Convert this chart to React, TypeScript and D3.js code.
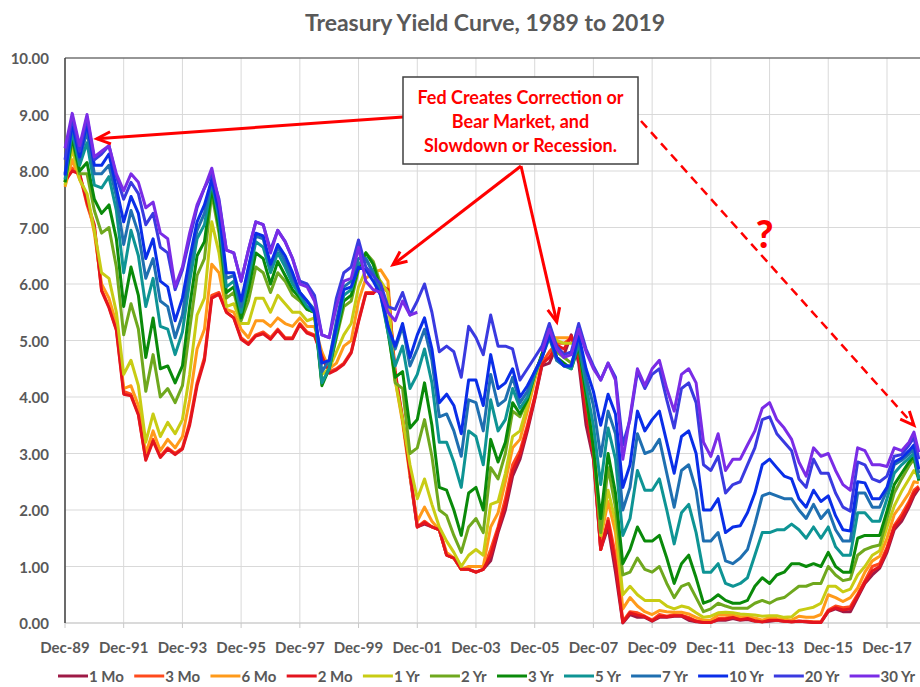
import * as d3 from 'd3';
import { useEffect, useRef } from 'react';

// 系列名称与颜色
const seriesNames = ['1 Mo', '3 Mo', '6 Mo', '2 Mo', '1 Yr', '2 Yr', '3 Yr', '5 Yr', '7 Yr', '10 Yr', '20 Yr', '30 Yr'];
const seriesColors = ['#9E1A46', '#FF4A1C', '#FF9A1A', '#E3141E', '#C8CC14', '#6FA81E', '#0A8A0A', '#0E9494', '#1F6FB0', '#0A2EE8', '#3A3AE0', '#7A2CE6'];

const yTicks = [0, 1, 2, 3, 4, 5, 6, 7, 8, 9, 10];
const xTickLabels = ['Dec-89', 'Dec-91', 'Dec-93', 'Dec-95', 'Dec-97', 'Dec-99', 'Dec-01', 'Dec-03', 'Dec-05', 'Dec-07', 'Dec-09', 'Dec-11', 'Dec-13', 'Dec-15', 'Dec-17'];

// quarterly points Dec-89 .. Sep-18, then Nov-18, Jan-19
const extraMonths = ['2018-11', '2019-01'];

// values by row: Dec-89 / one line per year (Mar, Jun, Sep, Dec) / 2018 (Mar, Jun, Sep, Nov) / Jan-19
const mo1 = [
  null,
  null, null, null, null,
  null, null, null, null,
  null, null, null, null,
  null, null, null, null,
  null, null, null, null,
  null, null, null, null,
  null, null, null, null,
  null, null, null, null,
  null, null, null, null,
  null, null, null, null,
  null, null, null, null,
  null, null, 2.60, 1.70,
  1.75, 1.70, 1.65, 1.20,
  1.15, 0.95, 0.95, 0.90,
  0.95, 1.10, 1.60, 2.00,
  2.60, 2.90, 3.40, 3.95,
  4.55, 4.60, 4.90, 4.75,
  5.10, 4.60, 3.50, 2.90,
  1.30, 1.70, 0.90, 0.00,
  0.15, 0.10, 0.10, 0.03,
  0.10, 0.10, 0.12, 0.12,
  0.05, 0.02, 0.01, 0.01,
  0.05, 0.05, 0.08, 0.05,
  0.06, 0.03, 0.02, 0.03,
  0.05, 0.03, 0.02, 0.03,
  0.02, 0.01, 0.01, 0.20,
  0.25, 0.20, 0.20, 0.45,
  0.70, 0.85, 0.97, 1.25,
  1.65, 1.80, 2.05, 2.25,
  2.38,
];

const mo3 = [
  7.80,
  8.05, 7.95, 7.40, 7.00,
  5.90, 5.60, 5.20, 4.10,
  4.05, 3.70, 2.90, 3.25,
  2.95, 3.10, 3.00, 3.10,
  3.55, 4.25, 4.70, 5.80,
  5.85, 5.50, 5.40, 5.05,
  4.95, 5.10, 5.15, 5.05,
  5.20, 5.05, 5.05, 5.30,
  5.15, 5.10, 4.75, 4.45,
  4.50, 4.60, 4.80, 5.35,
  5.85, 5.85, 6.00, 5.85,
  4.40, 3.60, 2.70, 1.70,
  1.80, 1.70, 1.65, 1.20,
  1.15, 0.95, 0.95, 0.90,
  0.95, 1.30, 1.70, 2.20,
  2.80, 3.05, 3.50, 4.00,
  4.60, 4.80, 4.95, 4.95,
  5.05, 4.75, 3.90, 3.05,
  1.30, 1.85, 1.20, 0.03,
  0.20, 0.18, 0.12, 0.05,
  0.15, 0.12, 0.15, 0.14,
  0.10, 0.04, 0.02, 0.01,
  0.08, 0.09, 0.11, 0.07,
  0.09, 0.04, 0.02, 0.07,
  0.05, 0.04, 0.02, 0.03,
  0.03, 0.02, 0.02, 0.23,
  0.30, 0.27, 0.29, 0.51,
  0.75, 1.00, 1.05, 1.34,
  1.73, 1.92, 2.15, 2.35,
  2.42,
];

const mo6 = [
  7.72,
  8.20, 7.85, 7.55, 6.90,
  6.00, 5.75, 5.30, 4.15,
  4.20, 3.85, 3.00, 3.40,
  3.05, 3.25, 3.10, 3.30,
  3.95, 4.85, 5.20, 6.35,
  6.20, 5.55, 5.50, 5.20,
  5.05, 5.35, 5.35, 5.25,
  5.40, 5.30, 5.25, 5.40,
  5.25, 5.25, 4.80, 4.50,
  4.60, 4.90, 5.00, 5.70,
  6.10, 6.20, 6.25, 6.05,
  4.30, 3.55, 2.60, 1.80,
  2.05, 1.80, 1.65, 1.25,
  1.15, 0.95, 1.00, 1.00,
  1.00, 1.70, 1.95, 2.50,
  3.10, 3.25, 3.75, 4.30,
  4.75, 5.05, 5.05, 5.05,
  5.05, 4.95, 4.10, 3.30,
  1.50, 2.15, 1.60, 0.25,
  0.45, 0.30, 0.20, 0.15,
  0.22, 0.20, 0.19, 0.19,
  0.16, 0.10, 0.05, 0.05,
  0.14, 0.14, 0.14, 0.11,
  0.11, 0.09, 0.05, 0.10,
  0.08, 0.07, 0.05, 0.12,
  0.10, 0.10, 0.15, 0.50,
  0.45, 0.38, 0.45, 0.62,
  0.90, 1.10, 1.18, 1.50,
  1.92, 2.10, 2.30, 2.50,
  2.48,
];

const mo2 = [
  7.82,
  8.00, 7.95, 7.45, 7.05,
  5.88, 5.58, 5.18, 4.05,
  4.02, 3.68, 2.88, 3.22,
  2.93, 3.08, 2.98, 3.08,
  3.50, 4.20, 4.65, 5.75,
  5.82, 5.50, 5.40, 5.02,
  4.93, 5.08, 5.12, 5.02,
  5.18, 5.03, 5.03, 5.28,
  5.13, 5.08, 4.72, 4.42,
  4.48, 4.58, 4.78, 5.33,
  5.83, 5.83, 5.98, 5.90,
  4.45, 3.62, 2.65, 1.70,
  1.78, 1.70, 1.65, 1.20,
  1.15, 0.95, 0.95, 0.90,
  0.95, 1.20, 1.65, 2.10,
  2.70, 2.98, 3.45, 3.98,
  4.58, 4.70, 4.92, 4.85,
  5.08, 4.70, 3.70, 2.98,
  1.30, 1.80, 1.05, 0.01,
  0.18, 0.14, 0.11, 0.04,
  0.12, 0.11, 0.13, 0.13,
  0.08, 0.03, 0.01, 0.01,
  0.06, 0.07, 0.10, 0.06,
  0.08, 0.04, 0.02, 0.05,
  0.05, 0.03, 0.02, 0.03,
  0.02, 0.01, 0.01, 0.21,
  0.27, 0.23, 0.25, 0.48,
  0.72, 0.92, 1.00, 1.30,
  1.70, 1.86, 2.10, 2.30,
  2.40,
];

const yr1 = [
  7.75,
  8.40, 7.85, 7.60, 6.95,
  6.20, 6.10, 5.50, 4.40,
  4.65, 4.20, 3.20, 3.70,
  3.30, 3.55, 3.35, 3.60,
  4.40, 5.45, 5.75, 7.10,
  6.55, 5.60, 5.65, 5.30,
  5.30, 5.75, 5.75, 5.50,
  5.80, 5.65, 5.50, 5.50,
  5.35, 5.40, 4.40, 4.50,
  4.80, 5.10, 5.30, 5.95,
  6.25, 6.20, 6.05, 5.85,
  4.30, 3.60, 2.80, 2.20,
  2.55, 2.10, 1.70, 1.45,
  1.25, 1.00, 1.20, 1.30,
  1.20, 2.10, 2.15, 2.65,
  3.30, 3.40, 3.85, 4.35,
  4.75, 5.15, 5.00, 4.95,
  4.95, 4.95, 4.10, 3.30,
  1.55, 2.35, 1.80, 0.50,
  0.65, 0.50, 0.40, 0.40,
  0.40, 0.30, 0.25, 0.30,
  0.27, 0.18, 0.10, 0.12,
  0.18, 0.19, 0.18, 0.16,
  0.15, 0.14, 0.12, 0.13,
  0.13, 0.10, 0.11, 0.22,
  0.25, 0.28, 0.35, 0.65,
  0.65, 0.55, 0.60, 0.85,
  1.00, 1.20, 1.28, 1.70,
  2.07, 2.33, 2.55, 2.70,
  2.58,
];

const yr2 = [
  7.80,
  8.55, 7.95, 7.95, 7.30,
  6.90, 7.00, 6.30, 5.10,
  5.65, 5.20, 4.10, 4.75,
  4.00, 4.15, 3.90, 4.20,
  5.20, 6.15, 6.45, 7.60,
  6.90, 5.75, 5.85, 5.35,
  5.70, 6.30, 6.20, 5.85,
  6.20, 6.05, 5.80, 5.70,
  5.55, 5.50, 4.25, 4.50,
  5.05, 5.60, 5.70, 6.25,
  6.55, 6.40, 6.00, 5.25,
  4.25, 4.15, 3.00, 3.10,
  3.60, 2.95, 2.00, 1.90,
  1.55, 1.25, 1.70, 1.85,
  1.60, 2.75, 2.55, 3.00,
  3.75, 3.65, 3.95, 4.40,
  4.75, 5.15, 4.80, 4.70,
  4.60, 4.90, 4.00, 3.10,
  1.60, 2.75, 2.05, 0.85,
  0.90, 1.15, 0.95, 0.90,
  1.00, 0.70, 0.45, 0.65,
  0.70, 0.45, 0.20, 0.25,
  0.35, 0.30, 0.26, 0.26,
  0.26, 0.35, 0.40, 0.35,
  0.42, 0.45, 0.55, 0.65,
  0.65, 0.70, 0.70, 1.00,
  0.85, 0.75, 0.78, 1.20,
  1.30, 1.35, 1.38, 1.85,
  2.30, 2.55, 2.78, 2.90,
  2.55,
];

const yr3 = [
  7.80,
  8.60, 8.00, 8.15, 7.50,
  7.25, 7.40, 6.80, 5.60,
  6.30, 5.80, 4.70, 5.40,
  4.50, 4.55, 4.25, 4.55,
  5.60, 6.50, 6.75, 7.70,
  7.00, 5.85, 5.95, 5.40,
  5.90, 6.55, 6.45, 6.00,
  6.40, 6.15, 5.90, 5.75,
  5.55, 5.50, 4.20, 4.50,
  5.10, 5.70, 5.80, 6.30,
  6.55, 6.35, 5.90, 5.15,
  4.35, 4.45, 3.45, 3.60,
  4.25, 3.50, 2.40, 2.35,
  2.00, 1.55, 2.30, 2.40,
  2.00, 3.25, 2.85, 3.20,
  3.90, 3.70, 3.95, 4.40,
  4.75, 5.10, 4.70, 4.60,
  4.50, 4.90, 4.05, 3.10,
  1.85, 3.00, 2.30, 1.05,
  1.30, 1.70, 1.45, 1.45,
  1.55, 1.15, 0.70, 1.05,
  1.20, 0.80, 0.35, 0.40,
  0.50, 0.40, 0.35, 0.35,
  0.40, 0.65, 0.80, 0.70,
  0.85, 0.90, 1.05, 1.05,
  1.00, 1.05, 1.00, 1.25,
  1.00, 0.90, 0.90, 1.50,
  1.55, 1.55, 1.55, 1.98,
  2.45, 2.65, 2.85, 2.95,
  2.52,
];

const yr5 = [
  7.85,
  8.70, 8.10, 8.50, 7.75,
  7.70, 7.90, 7.30, 6.20,
  6.95, 6.50, 5.60, 6.10,
  5.25, 5.20, 4.75, 5.15,
  6.05, 6.80, 7.05, 7.80,
  7.15, 5.95, 6.05, 5.50,
  6.10, 6.75, 6.65, 6.20,
  6.55, 6.30, 6.00, 5.80,
  5.60, 5.50, 4.25, 4.50,
  5.15, 5.80, 5.90, 6.35,
  6.45, 6.20, 5.80, 5.15,
  4.55, 4.90, 4.15, 4.40,
  4.85, 4.25, 3.20, 3.20,
  2.85, 2.40, 3.40, 3.30,
  2.80, 3.95, 3.40, 3.60,
  4.15, 3.80, 4.00, 4.40,
  4.70, 5.05, 4.65, 4.55,
  4.50, 4.95, 4.20, 3.50,
  2.45, 3.45, 2.90, 1.55,
  1.85, 2.70, 2.35, 2.35,
  2.55, 2.00, 1.40, 1.95,
  2.10, 1.60, 0.90, 0.90,
  1.05, 0.70, 0.65, 0.70,
  0.80, 1.20, 1.60, 1.60,
  1.65, 1.65, 1.75, 1.65,
  1.50, 1.70, 1.50, 1.70,
  1.35, 1.20, 1.20, 1.95,
  1.95, 1.80, 1.80, 2.20,
  2.65, 2.80, 2.92, 3.00,
  2.55,
];

const yr7 = [
  7.95,
  8.80, 8.20, 8.70, 7.95,
  7.95, 8.10, 7.55, 6.70,
  7.30, 6.90, 6.10, 6.45,
  5.70, 5.60, 5.05, 5.45,
  6.30, 6.95, 7.25, 7.85,
  7.25, 6.10, 6.15, 5.60,
  6.25, 6.85, 6.80, 6.30,
  6.65, 6.40, 6.10, 5.85,
  5.70, 5.55, 4.45, 4.65,
  5.35, 5.95, 6.05, 6.45,
  6.45, 6.20, 5.85, 5.25,
  4.85, 5.25, 4.55, 4.85,
  5.20, 4.65, 3.65, 3.70,
  3.40, 2.95, 3.95, 3.90,
  3.40, 4.40, 3.85, 3.95,
  4.35, 3.90, 4.10, 4.45,
  4.70, 5.10, 4.65, 4.55,
  4.55, 5.00, 4.35, 3.85,
  2.95, 3.75, 3.35, 2.00,
  2.40, 3.35, 3.00, 3.05,
  3.25, 2.65, 2.05, 2.70,
  2.80, 2.35, 1.45, 1.45,
  1.60, 1.10, 1.05, 1.15,
  1.30, 1.75, 2.25, 2.30,
  2.25, 2.20, 2.20, 2.00,
  1.85, 2.10, 1.85, 2.00,
  1.65, 1.45, 1.45, 2.30,
  2.30, 2.05, 2.05, 2.35,
  2.80, 2.88, 2.99, 3.08,
  2.65,
];

const yr10 = [
  7.92,
  8.85, 8.25, 8.85, 8.10,
  8.10, 8.30, 7.70, 7.10,
  7.55, 7.25, 6.45, 6.80,
  6.05, 5.95, 5.35, 5.75,
  6.45, 7.10, 7.40, 7.85,
  7.30, 6.20, 6.20, 5.70,
  6.30, 6.90, 6.85, 6.35,
  6.70, 6.50, 6.20, 5.85,
  5.70, 5.50, 4.60, 4.65,
  5.25, 5.90, 5.95, 6.30,
  6.25, 6.05, 5.80, 5.25,
  4.90, 5.30, 4.70, 5.10,
  5.40, 4.85, 3.90, 4.05,
  3.85, 3.35, 4.30, 4.30,
  3.85, 4.75, 4.15, 4.25,
  4.50, 4.00, 4.20, 4.45,
  4.70, 5.10, 4.70, 4.55,
  4.55, 5.10, 4.50, 4.10,
  3.50, 4.05, 3.70, 2.40,
  2.80, 3.75, 3.40, 3.60,
  3.75, 3.20, 2.65, 3.30,
  3.40, 3.00, 2.00, 2.00,
  2.20, 1.60, 1.70, 1.72,
  1.95, 2.30, 2.80, 2.90,
  2.75, 2.60, 2.55, 2.20,
  2.05, 2.35, 2.15, 2.25,
  1.90, 1.65, 1.63, 2.50,
  2.48, 2.20, 2.20, 2.40,
  2.85, 2.92, 3.05, 3.15,
  2.72,
];

const yr20 = [
  8.20,
  8.95, 8.35, 8.95, 8.20,
  8.30, 8.45, 7.90, 7.50,
  7.80, 7.60, 7.05, 7.25,
  6.65, 6.55, 5.90, 6.25,
  6.80, 7.35, 7.70, 7.95,
  7.50, 6.60, 6.55, 6.05,
  6.60, 7.10, 7.05, 6.60,
  6.95, 6.75, 6.45, 6.05,
  6.00, 5.80, 5.10, 5.05,
  5.75, 6.20, 6.30, 6.78,
  6.30, 6.15, 6.00, 5.60,
  5.55, 5.85, 5.45, 5.70,
  6.00, 5.50, 4.80, 4.90,
  4.80, 4.35, 5.25, 5.05,
  4.75, 5.45, 4.90, 4.90,
  4.85, 4.30, 4.50, 4.70,
  4.90, 5.30, 4.90, 4.75,
  4.80, 5.30, 4.85, 4.55,
  4.30, 4.60, 4.35, 3.15,
  3.60, 4.45, 4.15, 4.40,
  4.50, 3.95, 3.45, 4.15,
  4.25, 3.90, 2.80, 2.70,
  2.95, 2.30, 2.45, 2.50,
  2.80, 3.10, 3.60, 3.65,
  3.35, 3.20, 3.05, 2.55,
  2.40, 2.90, 2.65, 2.65,
  2.30, 2.05, 1.98, 2.85,
  2.80, 2.55, 2.50, 2.60,
  2.95, 2.98, 3.15, 3.28,
  2.90,
];

const yr30 = [
  8.40,
  9.02, 8.45, 9.00, 8.25,
  8.35, 8.45, 7.95, 7.65,
  7.95, 7.80, 7.35, 7.45,
  6.90, 6.80, 5.95, 6.30,
  6.90, 7.40, 7.70, 8.05,
  7.45, 6.60, 6.55, 6.05,
  6.60, 7.10, 7.05, 6.55,
  6.95, 6.75, 6.45, 6.00,
  5.95, 5.70, 5.10, 5.05,
  5.60, 6.05, 6.10, 6.65,
  6.05, 5.90, 5.85, 5.50,
  5.35, 5.70, 5.45, 5.50,
  null, null, null, null,
  null, null, null, null,
  null, null, null, null,
  null, null, null, null,
  4.80, 5.20, 4.85, 4.70,
  4.75, 5.20, 4.80, 4.50,
  4.30, 4.60, 4.30, 2.90,
  3.65, 4.50, 4.20, 4.50,
  4.65, 4.15, 3.75, 4.40,
  4.50, 4.25, 3.20, 2.95,
  3.35, 2.70, 2.90, 2.90,
  3.15, 3.40, 3.80, 3.90,
  3.60, 3.45, 3.25, 2.85,
  2.60, 3.10, 2.95, 3.00,
  2.70, 2.45, 2.35, 3.10,
  3.05, 2.80, 2.80, 2.77,
  3.10, 3.05, 3.20, 3.38,
  3.02,
];

const seriesValues = [mo1, mo3, mo6, mo2, yr1, yr2, yr3, yr5, yr7, yr10, yr20, yr30];

// annotation text and the points its arrows hit
const noteLines = ['Fed Creates Correction or', 'Bear Market, and', 'Slowdown or Recession.'];
const arrowTargets = [
  { month: '1991-01', value: 8.57 },
  { month: '2001-02', value: 6.34 },
  { month: '2006-09', value: 5.33 },
];
const dashedTarget = { month: '2018-11', value: 3.5 };
const questionSpot = { month: '2013-10', value: 6.9 };

const FONT = 'Lato, "Open Sans", "DejaVu Sans", sans-serif';
const GREY = '#595959';

function App() {
  const svgRef = useRef<SVGSVGElement>(null);

  useEffect(() => {
    const svg = d3.select(svgRef.current);
    svg.selectAll('*').remove();
    const width = 920, height = 687;
    const left = 65, top = 58, bottom = 623;

    const parseMonth = d3.timeParse('%Y-%m');
    const parseTick = d3.timeParse('%b-%y');
    const dates = [
      ...d3.timeMonth.range(new Date(1989, 11, 1), new Date(2018, 9, 1), 3),
      ...extraMonths.map(m => parseMonth(m) as Date),
    ];

    const x = d3.scaleTime()
      .domain([parseTick('Dec-89') as Date, parseTick('Dec-17') as Date])
      .range([left, 887]);
    const y = d3.scaleLinear().domain([0, 10]).range([bottom, top]);

    svg.append('rect').attr('width', width).attr('height', height).attr('fill', '#fff');

    // 标题
    svg.append('text')
      .attr('x', 485).attr('y', 22)
      .attr('text-anchor', 'middle').attr('dominant-baseline', 'central')
      .attr('font-family', FONT).attr('font-weight', 'bold').attr('font-size', 23)
      .attr('fill', GREY)
      .text('Treasury Yield Curve, 1989 to 2019');

    // 网格线
    const grid = svg.append('g');
    grid.selectAll('line.h')
      .data(yTicks)
      .join('line')
      .attr('x1', left).attr('x2', width)
      .attr('y1', d => y(d)).attr('y2', d => y(d))
      .attr('stroke', '#d9d9d9').attr('stroke-width', 1);
    const tickDates = xTickLabels.map(t => parseTick(t) as Date);
    grid.selectAll('line.v')
      .data(tickDates)
      .join('line')
      .attr('x1', d => x(d)).attr('x2', d => x(d))
      .attr('y1', top).attr('y2', bottom)
      .attr('stroke', '#d9d9d9').attr('stroke-width', 1);

    // 坐标轴
    svg.append('line').attr('x1', left).attr('x2', width).attr('y1', bottom).attr('y2', bottom)
      .attr('stroke', '#c8c8c8').attr('stroke-width', 1);
    svg.append('g').selectAll('line')
      .data(tickDates)
      .join('line')
      .attr('x1', d => x(d)).attr('x2', d => x(d))
      .attr('y1', bottom).attr('y2', bottom + 5)
      .attr('stroke', '#c8c8c8');
    svg.append('line').attr('x1', left).attr('x2', width).attr('y1', top).attr('y2', top)
      .attr('stroke', '#404040').attr('stroke-width', 1.2);
    svg.append('line').attr('x1', left).attr('x2', left).attr('y1', top).attr('y2', bottom)
      .attr('stroke', '#404040').attr('stroke-width', 1.5);

    svg.append('g').selectAll('text')
      .data(yTicks)
      .join('text')
      .attr('x', 49).attr('y', d => y(d))
      .attr('text-anchor', 'end').attr('dominant-baseline', 'central')
      .attr('font-family', FONT).attr('font-weight', 'bold').attr('font-size', 15)
      .attr('fill', GREY)
      .text(d => d3.format('.2f')(d));

    svg.append('g').selectAll('text')
      .data(xTickLabels)
      .join('text')
      .attr('x', d => x(parseTick(d) as Date)).attr('y', 647)
      .attr('text-anchor', 'middle').attr('dominant-baseline', 'central')
      .attr('font-family', FONT).attr('font-weight', 'bold').attr('font-size', 15)
      .attr('fill', GREY)
      .text(d => d);

    // 折线 (后画的在上面)
    const line = d3.line<number | null>()
      .defined(d => d != null)
      .x((_, i) => x(dates[i]))
      .y(d => y(d as number));
    const lines = svg.append('g');
    seriesValues.forEach((vals, i) => {
      lines.append('path')
        .datum(vals)
        .attr('fill', 'none')
        .attr('stroke', seriesColors[i])
        .attr('stroke-width', 3)
        .attr('stroke-linejoin', 'round')
        .attr('d', line);
    });

    // 图例
    const legendY = 676;
    const legend = svg.append('g');
    const items: { g: any; w: number }[] = [];
    seriesNames.forEach((name, i) => {
      const g = legend.append('g');
      g.append('line').attr('x1', 0).attr('x2', 30).attr('y1', legendY).attr('y2', legendY)
        .attr('stroke', seriesColors[i]).attr('stroke-width', 3);
      const t = g.append('text')
        .attr('x', 31).attr('y', legendY)
        .attr('dominant-baseline', 'central')
        .attr('font-family', FONT).attr('font-weight', 'bold').attr('font-size', 15)
        .attr('fill', GREY)
        .text(name);
      const w = 31 + (t.node() as SVGTextElement).getComputedTextLength();
      items.push({ g, w });
    });
    const start = 58, end = 915;
    const gap = (end - start - d3.sum(items, d => d.w)) / (items.length - 1);
    let lx = start;
    items.forEach(it => {
      it.g.attr('transform', `translate(${lx},0)`);
      lx += it.w + gap;
    });

    // 注释
    const red = '#FF0000';
    const ann = svg.append('g');
    function arrow(x1: number, y1: number, x2: number, y2: number, dashed: boolean) {
      ann.append('line')
        .attr('x1', x1).attr('y1', y1).attr('x2', x2).attr('y2', y2)
        .attr('stroke', red).attr('stroke-width', dashed ? 2.5 : 3)
        .attr('stroke-dasharray', dashed ? '9,6' : null);
      const a = Math.atan2(y2 - y1, x2 - x1);
      const len = 15, spread = 0.42;
      const p1 = [x2 - len * Math.cos(a - spread), y2 - len * Math.sin(a - spread)];
      const p2 = [x2 - len * Math.cos(a + spread), y2 - len * Math.sin(a + spread)];
      ann.append('path')
        .attr('d', `M${p1[0]},${p1[1]}L${x2},${y2}L${p2[0]},${p2[1]}`)
        .attr('fill', 'none').attr('stroke', red).attr('stroke-width', 3)
        .attr('stroke-linejoin', 'miter');
    }
    const box = { x: 403, y: 77, w: 235, h: 87 };
    const pt = (d: { month: string; value: number }) => [x(parseMonth(d.month) as Date), y(d.value)];
    const [a1, a2, a3] = arrowTargets.map(pt);
    arrow(box.x, 117, a1[0], a1[1], false);
    arrow(box.x + 118, box.y + box.h + 2, a2[0], a2[1], false);
    arrow(box.x + 118, box.y + box.h + 2, a3[0], a3[1], false);
    const dt = pt(dashedTarget);
    arrow(box.x + box.w + 3, 121, dt[0], dt[1], true);

    ann.append('rect')
      .attr('x', box.x).attr('y', box.y).attr('width', box.w).attr('height', box.h)
      .attr('fill', '#fff').attr('stroke', '#404040').attr('stroke-width', 1.5);
    ann.append('g').selectAll('text')
      .data(noteLines)
      .join('text')
      .attr('x', box.x + box.w / 2).attr('y', (_, i) => 97 + i * 24)
      .attr('text-anchor', 'middle').attr('dominant-baseline', 'central')
      .attr('font-family', FONT).attr('font-weight', 'bold').attr('font-size', 18)
      .attr('fill', red)
      .text(d => d);

    const q = pt(questionSpot);
    ann.append('text')
      .attr('x', q[0]).attr('y', q[1])
      .attr('text-anchor', 'middle').attr('dominant-baseline', 'central')
      .attr('font-family', FONT).attr('font-weight', 900).attr('font-size', 38)
      .attr('fill', red)
      .text('?');
  }, []);

  return (
    <svg ref={svgRef} width={920} height={687}
      style={{ position: 'absolute', left: 0, top: 0, display: 'block' }} />
  );
}

export default App;
